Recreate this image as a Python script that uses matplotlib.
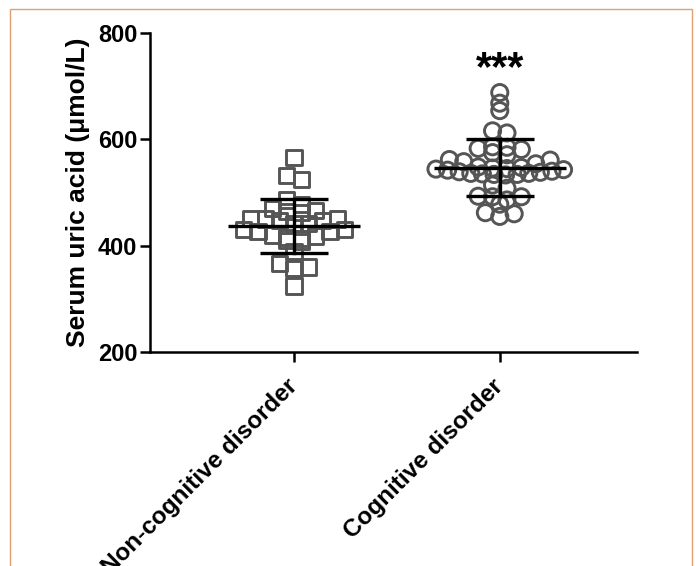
"""Serum uric acid by cognitive status: scatter dot plot with mean +/- SD bars."""
import matplotlib
matplotlib.use("Agg")
import matplotlib.pyplot as plt
import numpy as np
from matplotlib.patches import Rectangle

plt.rcParams["font.family"] = ["Liberation Sans", "DejaVu Sans"]
plt.rcParams["font.weight"] = "bold"

groups = ["Non-cognitive disorder", "Cognitive disorder"]
non_cog = [566, 532, 525, 486, 478, 470, 466, 462, 464, 451, 450, 448, 448, 450,
           442, 442, 431, 426, 431, 426, 418, 414, 420, 416, 408, 409, 389, 367,
           360, 357, 324]
cog = [688, 668, 654, 612, 616, 585, 583, 581, 586, 575, 571, 562, 561, 558, 554,
       548, 547, 546, 545, 544, 542, 540, 538, 536, 535, 534, 533, 534, 536, 539, 543,
       508, 486, 492, 492, 493, 514, 478, 462, 455, 460]
means = [437, 547]
sds = [50, 54]
yticks = [200, 400, 600, 800]

GRAY = "#555555"


def swarm_offsets(vals, binw=20.0, step=0.07, maxhalf=0.31):
    """Prism-like layout: group close values into rows, lowest of a row in the middle."""
    vals = np.asarray(vals, float)
    offs = np.zeros(len(vals))
    keys = np.floor((vals - vals.min() + binw / 2) / binw).astype(int)
    for k in np.unique(keys):
        idx = np.where(keys == k)[0]
        idx = idx[np.argsort(vals[idx])]
        n = len(idx)
        if n == 1:
            continue
        sp = min(step, 2 * maxhalf / (n - 1))
        # fill outward from centre, alternating right/left
        slots = sorted(np.arange(n) - (n - 1) / 2, key=lambda s: (abs(s), -s))
        for i, s in zip(idx, slots):
            offs[i] = s * sp
    return offs


fig = plt.figure(figsize=(6.96, 5.66), dpi=100)
ax = fig.add_axes([150 / 696, 1 - 352 / 566, 487 / 696, 319 / 566])

for i, (vals, mk) in enumerate([(non_cog, "s"), (cog, "o")]):
    x = i + swarm_offsets(vals)
    ax.scatter(x, vals, marker=mk, s=120 if mk == "s" else 135, facecolors="none",
               edgecolors=GRAY, linewidths=2.1, zorder=2)
    m, sd = means[i], sds[i]
    ax.plot([i - 0.32, i + 0.32], [m, m], color="black", lw=2.4, zorder=3,
            solid_capstyle="butt")
    ax.plot([i, i], [m - sd, m + sd], color="black", lw=2.4, zorder=3)
    for y in (m - sd, m + sd):
        ax.plot([i - 0.165, i + 0.165], [y, y], color="black", lw=2.4, zorder=3,
                solid_capstyle="butt")

ax.text(1, 694, "***", ha="center", va="bottom", fontsize=30, fontweight="bold")

ax.set_xlim(-0.70, 1.667)
ax.set_ylim(200, 800)
ax.set_yticks(yticks)
ax.set_xticks([0, 1])
ax.set_xticklabels(groups, rotation=45, ha="right", va="center",
                   rotation_mode="anchor", fontsize=17.5, fontweight="bold")
ax.tick_params(axis="y", labelsize=17, width=1.8, length=7, pad=2)
ax.tick_params(axis="x", width=1.8, length=7, pad=15)
ax.set_ylabel("Serum uric acid (\u03bcmol/L)", fontsize=19, fontweight="bold", labelpad=6)
for sp in ("top", "right"):
    ax.spines[sp].set_visible(False)
for sp in ("left", "bottom"):
    ax.spines[sp].set_linewidth(1.8)

# thin orange frame around the panel
fig.patches.append(Rectangle((10 / 696, -0.05), 682 / 696, 1.05 - 9 / 566,
                             transform=fig.transFigure, fill=False,
                             edgecolor="#e0a070", lw=1.0))

fig.savefig("out.png", dpi=100)
